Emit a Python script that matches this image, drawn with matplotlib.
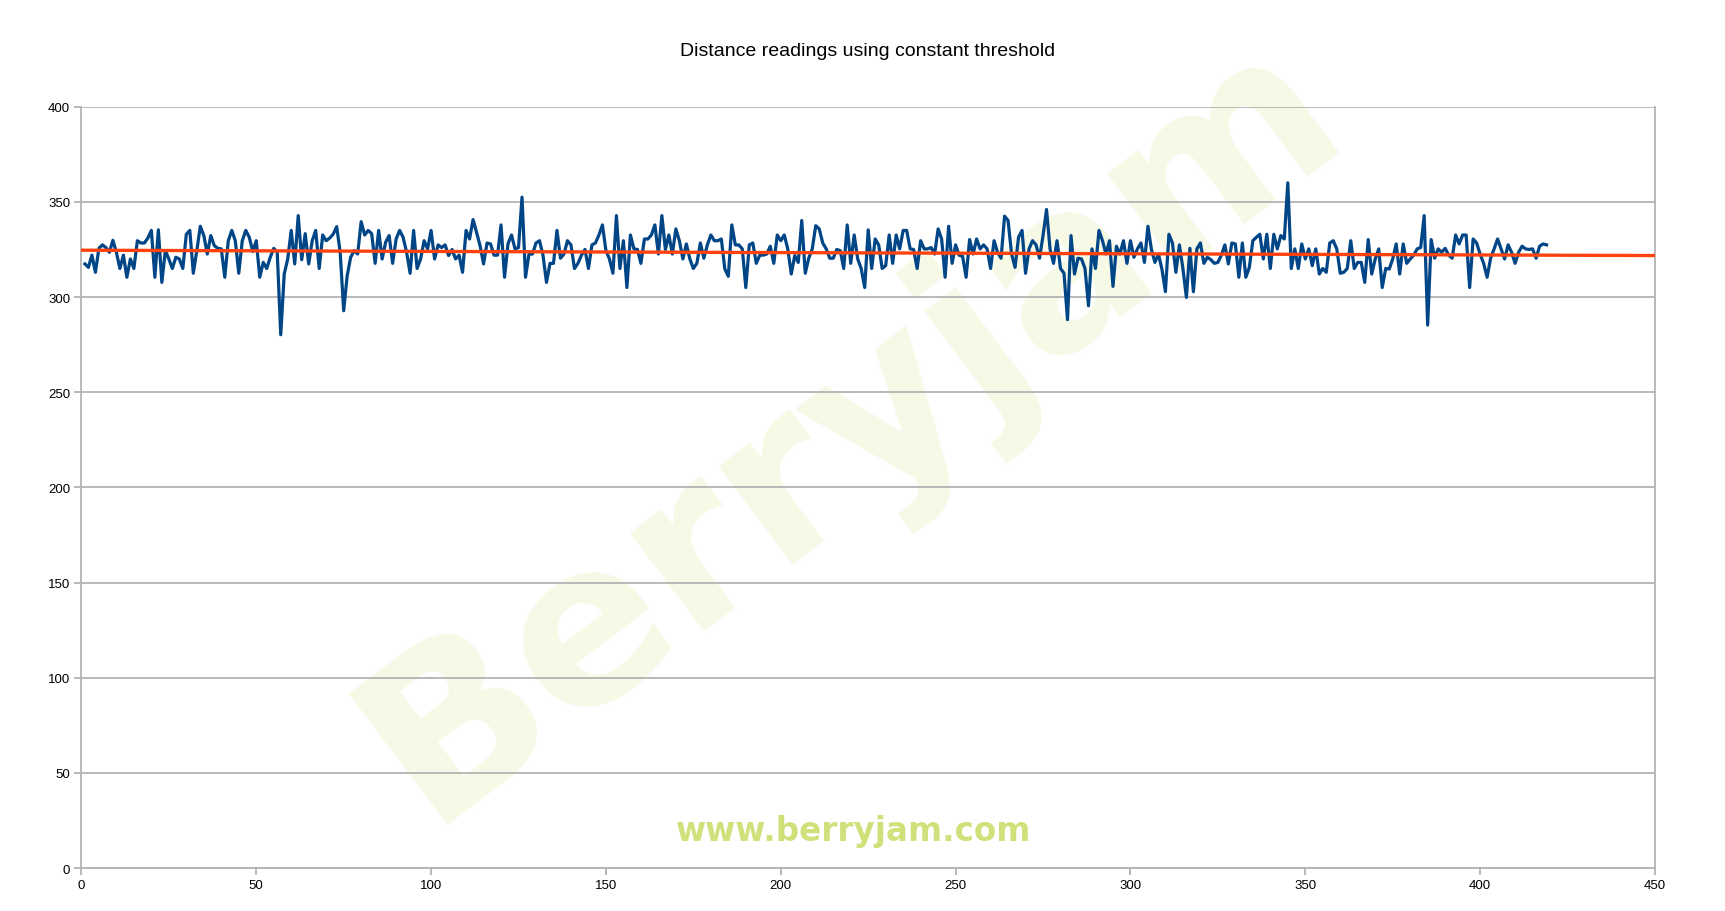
import numpy as np
import matplotlib
matplotlib.use("Agg")
import matplotlib.pyplot as plt

"""
Distance readings chart with a linear trend line.
"""

readings = [
    317.4, 315.6, 322, 313, 325.6, 327.4, 326, 323.5, 329.8, 323.5,
    315, 322, 310.4, 320, 315, 329.6, 328.4, 328.4, 331, 335,
    310.4, 335.3, 307.7, 324.4, 320, 315, 320.9, 320, 315, 333,
    335, 312.5, 324.4, 337.2, 332.3, 322.6, 332.3, 327, 325.6, 325.3,
    310.4, 329.6, 335, 329.6, 312.5, 329.6, 335, 331.4, 323.9, 329.6,
    310.4, 318.2, 315, 320.9, 325.6, 323.5, 280.2, 312.1, 320, 335,
    317.4, 342.8, 319.6, 333.3, 317.4, 329.6, 335, 315, 332.6, 329.6,
    331, 333, 337, 323.5, 292.8, 311.2, 320.9, 324.4, 322.6, 339.6,
    332.6, 335, 333.3, 317.7, 335, 320, 328.8, 332.3, 317.7, 330.5,
    335, 331.4, 323.5, 312.5, 335, 315, 320, 329.6, 325.3, 335,
    320, 327.4, 326, 327.4, 321.8, 325, 320, 322, 313, 335,
    330.5, 340.7, 334, 327, 317.4, 328.4, 327.9, 322, 322, 337.9,
    310.4, 328, 332.6, 325.3, 326, 352.5, 310.4, 322.6, 322.6, 328.4,
    329.6, 322, 307.7, 317.7, 317.7, 335, 320.4, 322.6, 329.6, 327.4,
    315, 317.7, 322, 325, 315, 327.4, 328.4, 332.6, 337.9, 324.4,
    320, 312.5, 342.8, 315, 329.6, 305, 332.6, 325.3, 325, 317.7,
    330.5, 330.5, 332.6, 337.9, 322.6, 342.8, 325, 332.6, 322.6, 335.8,
    329.6, 320, 327.9, 320, 315, 317.7, 328.4, 320.4, 327.4, 332.6,
    329.6, 329.6, 330.5, 314.7, 310.9, 337.9, 327.4, 327.4, 325.3, 305,
    327.4, 328.4, 317.7, 322, 322, 322.6, 326.7, 317.7, 332.6, 329.6,
    332.6, 325.3, 312.1, 321.8, 318.2, 340.2, 312.5, 320.4, 325.3, 337.5,
    335.8, 328.4, 325.3, 320.4, 320.4, 325, 324.4, 315, 337.9, 317.7,
    332.6, 320, 315, 305, 335.3, 315, 330.5, 327.4, 315, 316.5,
    332.6, 317.7, 332.6, 325.3, 335, 335, 325.3, 325, 315, 329.6,
    325.3, 325.3, 326, 322.6, 335.8, 330.5, 310.4, 337.2, 317.7, 327.4,
    322, 321.4, 310.4, 330.2, 322.6, 330.5, 325.3, 327.4, 325.3, 315,
    329.6, 323.5, 320.4, 342.5, 340.2, 322.6, 315.6, 331.4, 335, 312.5,
    325.3, 329.6, 327.4, 320.4, 332.3, 346, 325.3, 317.7, 329.6, 315,
    312.5, 288.1, 332.3, 312.1, 320.4, 320, 315, 295.4, 325.3, 315,
    335, 329.6, 322.6, 329.6, 305.6, 326.7, 322.6, 329.6, 317.7, 329.6,
    320.9, 325.3, 328.4, 318.2, 337.2, 325, 318.2, 322.6, 314.7, 302.8,
    333, 328.4, 313, 327.4, 315, 299.8, 325.6, 302.8, 325.3, 328.4,
    317.7, 320.9, 319.6, 317.7, 318.2, 322, 327.4, 317.4, 328.4, 327.9,
    310.4, 328.4, 310.4, 315.6, 329.6, 331.4, 333, 320, 333, 315,
    333, 325.3, 332.3, 330.5, 360, 315, 325.3, 315, 327.9, 320,
    325.3, 316.5, 325.3, 312.1, 315, 313, 328.4, 329.6, 325.3, 312.5,
    313, 315, 329.6, 315, 318.2, 318.2, 307.7, 330.2, 312.1, 320,
    325.3, 305, 315, 314.7, 320, 327.9, 312.1, 327.9, 317.7, 320,
    322, 325.3, 326, 342.8, 285.3, 330.2, 320.4, 325.3, 323.5, 325.6,
    322, 320.4, 332.6, 327.9, 332.6, 332.6, 305, 330.5, 328.4, 322.6,
    317.7, 310.4, 320.4, 325.3, 330.5, 325.3, 320, 327.4, 323.5, 317.7,
    323.5, 326.7, 325.3, 325, 325.3, 320.4, 326.7, 327.9, 327.4,
]
sample_no = np.arange(1, len(readings) + 1)

# linear trend line end points
trend_x = [0, 450]
trend_y = [324.6, 321.8]

blue = "#004586"
red = "#ff420e"
grid_gray = "#b3b3b3"

plt.rcParams['font.family'] = ['Liberation Sans', 'DejaVu Sans']

fig = plt.figure(figsize=(17.25, 9.12), dpi=100)
ax = fig.add_axes([0.0472, 0.0471, 0.9122, 0.8348])
ax.patch.set_alpha(0)

# watermark, kept under the axes
fig.text(0.494, 0.53, "Berryjam", fontsize=162, fontweight="bold",
         family="DejaVu Sans", color="#f5f9e6", rotation=37,
         ha="center", va="center", zorder=-1)
fig.text(0.495, 0.088, "www.berryjam.com", fontsize=23.5, fontweight="bold",
         family="DejaVu Sans", color="#d0e17c", ha="center", va="center", zorder=-1)

ax.plot(sample_no, readings, color=blue, lw=2.3, zorder=3)
ax.plot(trend_x, trend_y, color=red, lw=2.4, zorder=4)

ax.set_xlim(0, 450)
ax.set_ylim(0, 400)
ax.set_xticks(range(0, 451, 50))
ax.set_yticks(range(0, 401, 50))
ax.set_axisbelow(True)
ax.yaxis.grid(True, color=grid_gray, lw=1.3)
for s in ax.spines.values():
    s.set_color(grid_gray)
    s.set_linewidth(1.3)
ax.spines['top'].set_visible(False)
ax.tick_params(axis='both', colors=grid_gray, labelcolor="black",
               labelsize=9.5, length=5, width=1.3, pad=3)

fig.text(0.503, 0.943, "Distance readings using constant threshold",
         fontsize=14, ha="center", va="center")

fig.savefig("out.png", dpi=100)
